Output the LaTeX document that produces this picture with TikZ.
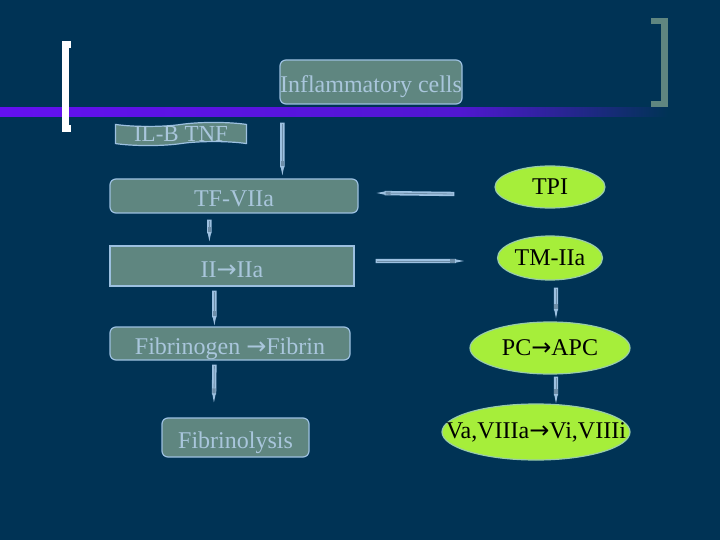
\documentclass[tikz,border=0pt]{standalone}
\usepackage{fontspec}
\setmainfont{Liberation Serif}
\newfontfamily\arrowfont{DejaVu Sans}
\usetikzlibrary{shapes.geometric,shapes.symbols,calc}
\definecolor{bg}{HTML}{003355}
\definecolor{boxfill}{HTML}{5F8680}
\definecolor{edge}{HTML}{9CC0E0}
\definecolor{core}{HTML}{6E8EA8}
\definecolor{txt}{HTML}{A9C6DC}
\definecolor{lime}{HTML}{A6EE3A}
\definecolor{limeedge}{HTML}{99CCAA}
\definecolor{barpurple}{HTML}{6410F0}
\definecolor{bracketgray}{HTML}{5F8680}
\newcommand\ra{{\arrowfont →}}
\tikzset{
  box/.style={draw=edge, line width=1.2pt, fill=boxfill, text=txt, inner sep=0pt,
    font=\fontsize{24}{28}\selectfont, anchor=center, text height=22pt, text depth=0pt},
  rbox/.style={box, rounded corners=6pt},
  oval/.style={ellipse, draw=limeedge, line width=1.2pt, fill=lime, text=black, inner sep=0pt,
    font=\fontsize{24}{28}\selectfont},
  corestyle/.style={draw=core, line width=0.8pt}
}
% connector from #1 to #2 (coordinates built on node names)
\newcommand\conn[2]{%
  \coordinate (cA) at (#1);
  \coordinate (cB) at (#2);
  \coordinate (cH) at ($(cB)!8pt!(cA)$);
  \coordinate (cM) at ($(cB)!9pt!(cA)$);
  \coordinate (cN) at ($(cB)!14pt!(cA)$);
  \fill[edge] ($(cA)!2.2pt!90:(cB)$) -- ($(cH)!2.2pt!90:(cB)$) -- ($(cH)!1.6pt!90:(cB)$)
     -- (cB) -- ($(cH)!1.6pt!-90:(cB)$) -- ($(cH)!2.2pt!-90:(cB)$)
     -- ($(cA)!2.2pt!-90:(cB)$) -- cycle;
  \draw[corestyle] ($(cA)!1.5pt!(cB)$) -- (cN);
  \fill[core] ($(cN)!1.6pt!90:(cB)$) -- ($(cM)!1.6pt!90:(cB)$) -- ($(cM)!1.6pt!-90:(cB)$) -- ($(cN)!1.6pt!-90:(cB)$) -- cycle;
}
\begin{document}
\begin{tikzpicture}[x=1pt,y=-1pt]
\useasboundingbox (0,0) rectangle (720,540);
\fill[bg] (0,0) rectangle (720,540);
% purple bar
\shade[left color=barpurple, right color=barpurple!80!bg] (0,108) rectangle (460,117);
\shade[left color=barpurple!80!bg, right color=bg] (460,108) rectangle (668,117);
% left bracket (white)
\fill[white] (62,41) rectangle (71,48);
\fill[white] (62,41) rectangle (69,132);
\fill[white] (62,125) rectangle (71,132);
% right bracket (gray)
\fill[bracketgray] (651,18) rectangle (668,24);
\fill[bracketgray] (661,18) rectangle (668,107);
\fill[bracketgray] (651,101) rectangle (668,107);
% nodes
\node[rbox, minimum width=182pt, minimum height=44pt] (infl) at (371,82) {Inflammatory cells};
\node[tape, draw=edge, line width=1.2pt, fill=boxfill, text=txt, inner sep=0pt,
  minimum width=131pt, minimum height=18pt, tape bend height=4pt,
  font=\fontsize{23}{26}\selectfont] (il) at (181,134) {IL-B TNF};
\node[rbox, minimum width=248pt, minimum height=34pt] (tf) at (234,196) {TF-VIIa};
\node[box, minimum width=244pt, minimum height=40pt] (ii) at (232,266) {II\ra IIa};
\node[rbox, minimum width=240pt, minimum height=33pt] (fib) at (230,343.5) {Fibrinogen \ra Fibrin};
\node[rbox, minimum width=147pt, minimum height=39pt] (lys) at (235.5,437.5) {Fibrinolysis};
\node[oval, minimum width=110pt, minimum height=42pt] (tpi) at (550,187) {TPI};
\node[oval, minimum width=105pt, minimum height=44pt] (tm) at (550,258) {TM-IIa};
\node[oval, minimum width=160pt, minimum height=52pt] (pc) at (550,348) {PC\ra APC};
\node[oval, minimum width=188pt, minimum height=56pt] (va) at (536,432) {\makebox[0pt]{Va,VIIIa\ra Vi,VIIIi}};
% connectors
\conn{$(infl.south west)+(3,18)$}{$(tf.north west)+(173,-3)$}
\conn{$(tf.south west)+(100,6)$}{$(ii.north west)+(100,-4)$}
\conn{$(ii.south west)+(105,4)$}{$(fib.north west)+(105,-1)$}
\conn{$(fib.south west)+(105,4)$}{$(lys.north west)+(52.5,-15)$}
\conn{$(tpi.west)+(-40,7)$}{$(tf.east)+(18,-3)$}
\conn{$(ii.east)+(21,-5)$}{$(tm.west)+(-33,3)$}
\conn{$(tm.south)+(6,7)$}{$(pc.north)+(6,-3)$}
\conn{$(pc.south)+(6,2)$}{$(va.north)+(20,0)$}
\end{tikzpicture}
\end{document}
